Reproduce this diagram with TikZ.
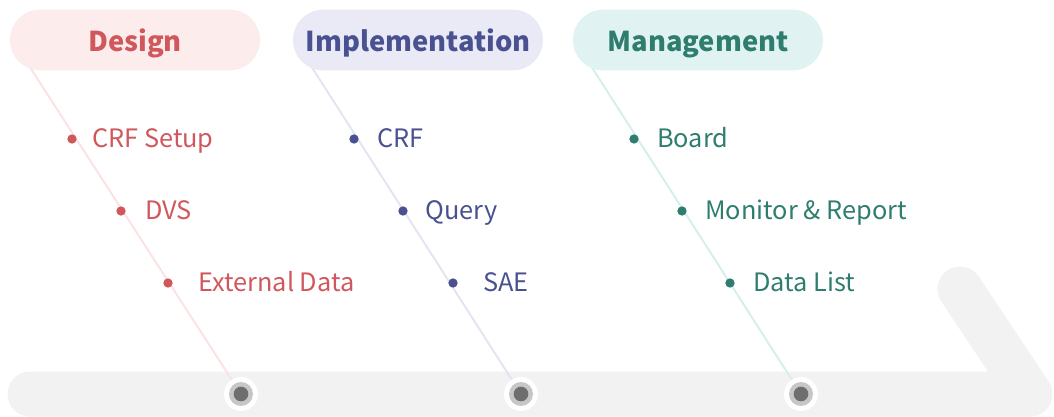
\documentclass[tikz,border=0pt]{standalone}
\usepackage{fontspec}
\setmainfont{Noto Sans CJK SC}
\usetikzlibrary{positioning}
\definecolor{dred}{HTML}{D0585C}
\definecolor{dredbg}{HTML}{FDECEC}
\definecolor{dredln}{HTML}{FBE2E3}
\definecolor{iblue}{HTML}{4A5190}
\definecolor{ibluebg}{HTML}{E9EAF6}
\definecolor{iblueln}{HTML}{E4E5F1}
\definecolor{mteal}{HTML}{2F7D6E}
\definecolor{mtealbg}{HTML}{E0F3F2}
\definecolor{mtealln}{HTML}{D6EFEC}
\definecolor{barg}{HTML}{F2F2F2}
\tikzset{
  pill/.style={fill=#1, rounded corners=22.5pt, minimum width=187.5pt, minimum height=45.5pt,
    inner sep=0pt, anchor=base, text height=18pt, text depth=0pt,
    font=\fontsize{20.5}{21}\selectfont\bfseries},
  bullet/.style={circle, fill=#1, inner sep=0pt, minimum size=7pt},
  item/.style={anchor=base west, inner sep=0pt, font=\fontsize{19}{20}\selectfont},
  branch/.style={draw=#1, line width=1.5pt},
  hub/.style={circle, fill=white, inner sep=0pt, minimum size=25.5pt}
}
\begin{document}
\begin{tikzpicture}[x=0.75pt, y=-0.75pt]
\useasboundingbox (0,0) rectangle (1054,417);
% bottom bar
\draw[barg, line width=33.75pt, line cap=round, line join=round] (30,394) -- (1030,394) -- (960,289);
% hubs on the bar
\foreach \n/\x in {d/241, i/521, m/801} {
  \node[hub] (\n hub) at (\x,394) {};
  \fill[black!22] (\n hub.center) circle (9pt);
  \fill[black!57] (\n hub.center) circle (5.5pt);
}
% branch lines
\coordinate (dtop) at (22,55);
\coordinate (itop) at (304,55);
\coordinate (mtop) at (584,55);
\draw[branch=dredln] (dtop) -- (dhub);
\draw[branch=iblueln] (itop) -- (ihub);
\draw[branch=mtealln] (mtop) -- (mhub);
% heads
\node[pill=dredbg, text=dred] (design) at (135,52) {Design};
\node[pill=ibluebg, text=iblue] (impl) at (418,52) {Implementation};
\node[pill=mtealbg, text=mteal] (mgmt) at (698,52) {Management};
% design items
\node[bullet=dred] (d1) at (72,139) {};
\node[bullet=dred] (d2) at (121,211) {};
\node[bullet=dred] (d3) at (168,283) {};
\node[item, text=dred] at (92,147.5) {CRF Setup};
\node[item, text=dred] at (145,219.5) {DVS};
\node[item, text=dred] at (198,291.5) {External Data};
% implementation items
\node[bullet=iblue] (i1) at (354,139) {};
\node[bullet=iblue] (i2) at (403,211) {};
\node[bullet=iblue] (i3) at (453,283) {};
\node[item, text=iblue] at (377,147.5) {CRF};
\node[item, text=iblue] at (425,219.5) {Query};
\node[item, text=iblue] at (483,291.5) {SAE};
% management items
\node[bullet=mteal] (m1) at (634,139) {};
\node[bullet=mteal] (m2) at (682,211) {};
\node[bullet=mteal] (m3) at (730,283) {};
\node[item, text=mteal] at (657,147.5) {Board};
\node[item, text=mteal] at (705,219.5) {Monitor \& Report};
\node[item, text=mteal] at (753,291.5) {Data List};
\end{tikzpicture}
\end{document}
